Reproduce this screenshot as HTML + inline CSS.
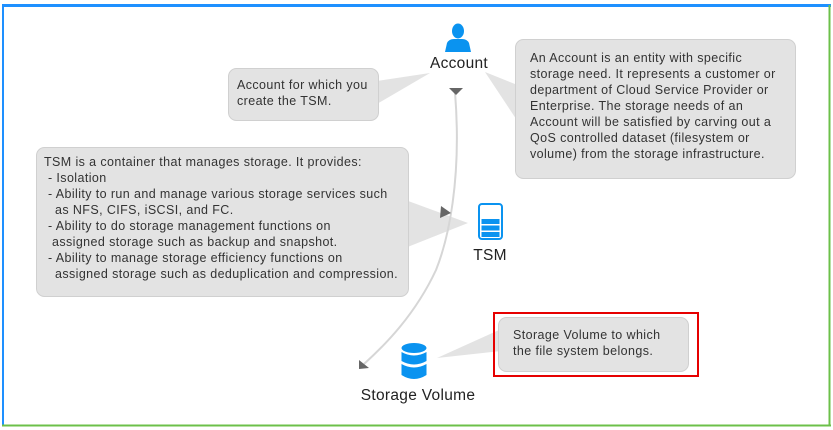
<!DOCTYPE html>
<html><head><meta charset="utf-8"><style>
html,body{margin:0;padding:0;background:#fff;}
svg{display:block;font-family:"Liberation Sans",sans-serif;}
</style></head><body>
<svg width="833" height="430" viewBox="0 0 833 430" xmlns="http://www.w3.org/2000/svg">
<rect x="0" y="0" width="833" height="430" fill="#fff"/>
<line x1="2" y1="5.5" x2="831" y2="5.5" stroke="#1e90ff" stroke-width="3"/>
<line x1="3" y1="5" x2="3" y2="426" stroke="#1e90ff" stroke-width="2"/>
<line x1="829.5" y1="5" x2="829.5" y2="426" stroke="#6cc04a" stroke-width="2"/>
<line x1="2" y1="425.5" x2="831" y2="425.5" stroke="#6cc04a" stroke-width="2"/>

<g fill="#e3e3e3">
<polygon points="370,82 430,73 370,108"/>
<polygon points="530,90 485,72 530,140"/>
<polygon points="400,198 468,223 400,250"/>
<polygon points="510,325 437,358 510,350"/>
</g>

<g fill="#e3e3e3" stroke="#d0d0d0" stroke-width="1">
<rect x="228.5" y="68.5" width="150" height="52" rx="8"/>
<rect x="515.5" y="39.5" width="280" height="139" rx="8"/>
<rect x="36.5" y="147.5" width="372" height="149" rx="8"/>
<rect x="498.5" y="317.5" width="190" height="54" rx="8"/>
</g>
<rect x="494" y="313" width="204" height="63" fill="none" stroke="#e60000" stroke-width="2"/>

<path d="M455,92 C462,180 448,240 436,270 C415,315 385,345 364,364" fill="none" stroke="#d6d6d6" stroke-width="2"/>
<polygon points="449,88 463,88 456,95" fill="#666"/>
<polygon points="441,206 451,213 440,218" fill="#666"/>
<polygon points="359,360 369,368 359,369" fill="#666"/>

<g fill="#0a93f0">
<ellipse cx="458" cy="31" rx="6" ry="7.5"/>
<path d="M445,52 L447,43 Q449,39 454,39 L462,39 Q467,39 469,43 L471,52 Z"/>
</g>
<rect x="479" y="204" width="23" height="35" rx="3" fill="none" stroke="#0a93f0" stroke-width="2"/>
<g fill="#0a93f0">
<rect x="481.5" y="219" width="18" height="5"/>
<rect x="481.5" y="225.5" width="18" height="5"/>
<rect x="481.5" y="232" width="18" height="5"/>
</g>
<g fill="#0a93f0">
<ellipse cx="414" cy="348" rx="12.5" ry="5"/>
<path d="M401.5,352 Q414,359 426.5,352 L426.5,361 Q414,368 401.5,361 Z"/>
<path d="M401.5,364 Q414,371 426.5,364 L426.5,375 Q414,383 401.5,375 Z"/>
</g>

<g fill="#222" font-size="15.5" text-anchor="middle" letter-spacing="0.3">
<text x="459" y="68">Account</text>
<text x="490" y="260">TSM</text>
<text x="418" y="400">Storage Volume</text>
</g>

<g fill="#333" font-size="12.5" letter-spacing="0.4">
<text x="237" y="89">Account for which you</text>
<text x="237" y="105">create the TSM.</text>

<text x="530" y="62">An Account is an entity with specific</text>
<text x="530" y="78">storage need. It represents a customer or</text>
<text x="530" y="94">department of Cloud Service Provider or</text>
<text x="530" y="110">Enterprise. The storage needs of an</text>
<text x="530" y="126">Account will be satisfied by carving out a</text>
<text x="530" y="142">QoS controlled dataset (filesystem or</text>
<text x="530" y="158">volume) from the storage infrastructure.</text>

<text x="44" y="166">TSM is a container that manages storage. It provides:</text>
<text x="48" y="182">- Isolation</text>
<text x="48" y="198">- Ability to run and manage various storage services such</text>
<text x="55" y="214">as NFS, CIFS, iSCSI, and FC.</text>
<text x="48" y="230">- Ability to do storage management functions on</text>
<text x="52" y="246">assigned storage such as backup and snapshot.</text>
<text x="48" y="262">- Ability to manage storage efficiency functions on</text>
<text x="55" y="278">assigned storage such as deduplication and compression.</text>

<text x="513" y="339">Storage Volume to  which</text>
<text x="513" y="355">the file system belongs.</text>
</g>
</svg>
</body></html>
